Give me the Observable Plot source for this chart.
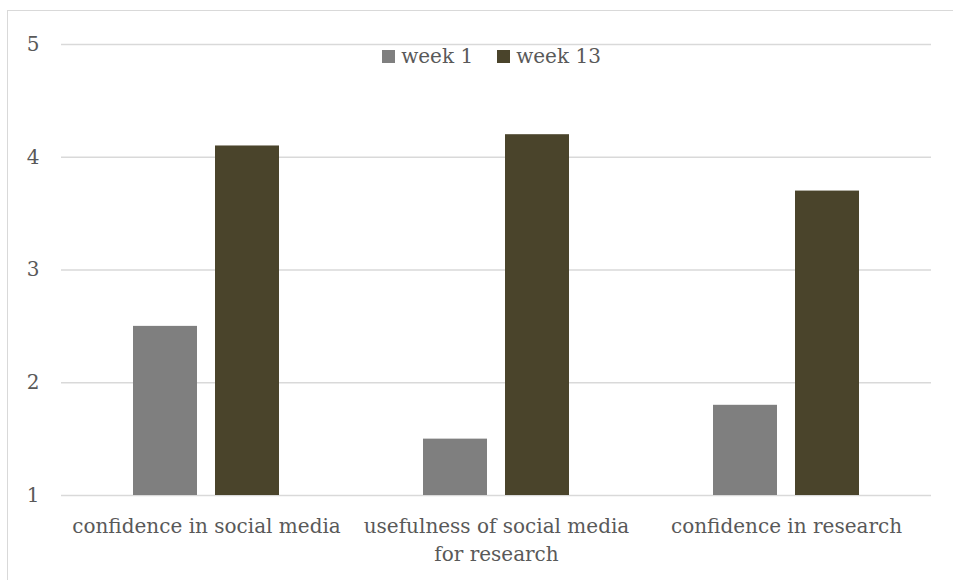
<!DOCTYPE html>
<html>
<head>
<meta charset="utf-8">
<script src="https://cdn.jsdelivr.net/npm/d3@7"></script>
<script src="https://cdn.jsdelivr.net/npm/@observablehq/plot@0.6"></script>
<style>
  html, body { margin: 0; padding: 0; background: #fff; overflow: hidden; }
  #wrap { position: relative; width: 953px; height: 580px; }
  #border { position: absolute; left: 7px; top: 10px; width: 980px; height: 620px; border: 1.5px solid #d9d9d9; box-sizing: border-box; }
  #legend { position: absolute; top: 44px; left: 15px; width: 953px; height: 24px; display: flex; justify-content: center; align-items: center; gap: 24px;
            font-family: "DejaVu Serif", serif; font-size: 20px; line-height: 24px; color: #595959; }
  #legend span.item { display: flex; align-items: center; }
  #legend span.sw { display: inline-block; width: 13px; height: 13px; margin-right: 6px; }
  #chart { position: absolute; left: 0; top: 0; }
</style>
</head>
<body>
<div id="wrap">
  <div id="border"></div>
  <div id="chart"></div>
  <div id="legend"></div>
</div>
<script>
const categories = ["confidence in social media", "usefulness of social media for research", "confidence in research"];
const categoryLabels = ["confidence in social media", "usefulness of social media\nfor research", "confidence in research"];
const seriesNames = ["week 1", "week 13"];
const week1 = [2.5, 1.5, 1.8];
const week13 = [4.1, 4.2, 3.7];
const yTicks = [1, 2, 3, 4, 5];
const colors = ["#7f7f7f", "#4a442b"];

const data = [];
categories.forEach((c, i) => {
  data.push({category: c, series: seriesNames[0], value: week1[i]});
  data.push({category: c, series: seriesNames[1], value: week13[i]});
});

const font = '"DejaVu Serif", serif';

const chart = Plot.plot({
  width: 953,
  height: 580,
  marginLeft: 60,
  marginRight: 21,
  marginTop: 44,
  marginBottom: 85,
  style: {fontFamily: font, fontSize: "20px", color: "#595959", background: "transparent"},
  fx: {domain: categories, padding: 0, label: null},
  x: {domain: seriesNames, paddingInner: 0.217, paddingOuter: 0.867, axis: null},
  y: {domain: [1, 5], axis: null},
  color: {domain: seriesNames, range: colors},
  marks: [
    Plot.ruleY(yTicks, {stroke: "#d9d9d9", strokeWidth: 1.5}),
    Plot.barY(data, {fx: "category", x: "series", y1: 1, y2: "value", fill: "series"}),
    Plot.axisY({ticks: yTicks, tickSize: 0, tickPadding: 22, tickFormat: d => String(d), fill: "#595959", fontSize: 20, label: null, anchor: "left"}),
    Plot.axisFx({anchor: "bottom", tickSize: 0, tickPadding: 18, label: null, fill: "#595959", fontSize: 20, lineHeight: 1.4,
      tickFormat: d => categoryLabels[categories.indexOf(d)]})
  ]
});
document.getElementById("chart").appendChild(chart);

const legend = document.getElementById("legend");
seriesNames.forEach((s, i) => {
  const item = document.createElement("span");
  item.className = "item";
  const sw = document.createElement("span");
  sw.className = "sw";
  sw.style.background = colors[i];
  item.appendChild(sw);
  item.appendChild(document.createTextNode(s));
  legend.appendChild(item);
});
</script>
</body>
</html>
